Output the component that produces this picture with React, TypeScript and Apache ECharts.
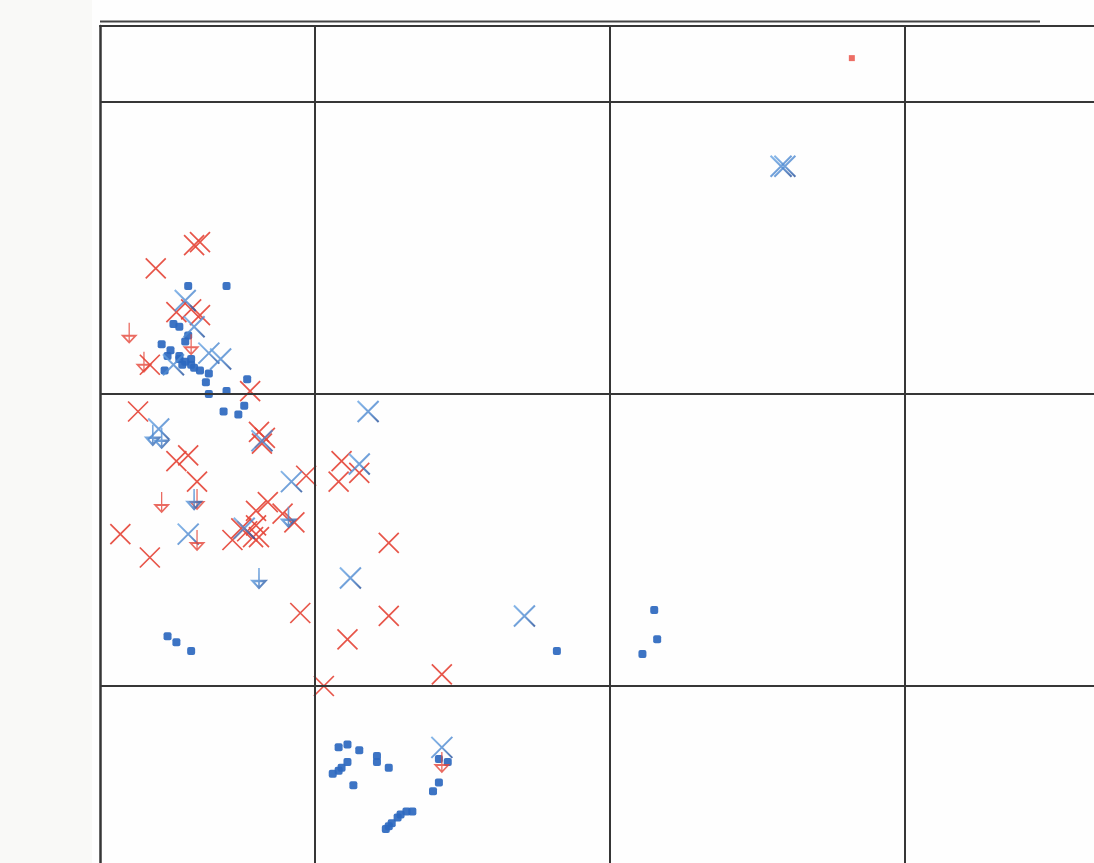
import React, { useEffect, useRef } from "react";
import * as echarts from "echarts";

// Axis range in grid-cell units (grid lines at 1, 2, 3)
const xRange = [0.271, 3.641];
const yRange = [0.394, 3.26];
const gridLinesX = [1, 2, 3];
const gridLinesY = [1, 2, 3];

// Red crosses
const redCrossX = [0.59, 0.61, 0.46, 0.53, 0.58, 0.61, 0.44, 0.78, 0.40, 0.81, 0.83, 0.82, 0.53, 0.57, 0.60, 0.97, 0.80, 0.84, 0.77, 0.79, 0.81, 0.72, 0.75, 0.93, 0.89, 0.34, 0.44, 1.09, 1.15, 1.08, 1.25, 0.95, 1.25, 1.11, 1.43, 1.03, 0.80];
const redCrossY = [2.51, 2.52, 2.43, 2.28, 2.29, 2.27, 2.10, 2.01, 1.94, 1.87, 1.85, 1.83, 1.77, 1.79, 1.70, 1.72, 1.60, 1.63, 1.53, 1.51, 1.51, 1.50, 1.54, 1.56, 1.59, 1.52, 1.44, 1.77, 1.73, 1.70, 1.49, 1.25, 1.24, 1.16, 1.04, 1.00, 1.55];

// Blue crosses
const blueCrossX = [2.58, 2.593, 0.56, 0.59, 0.64, 0.68, 0.52, 0.47, 0.82, 0.92, 1.15, 1.18, 0.76, 0.57, 1.12, 1.71, 1.43];
const blueCrossY = [2.78, 2.78, 2.32, 2.23, 2.14, 2.12, 2.10, 1.88, 1.84, 1.70, 1.76, 1.94, 1.54, 1.52, 1.37, 1.24, 0.79];

// Blue squares
const blueSquareX = [0.57, 0.70, 0.52, 0.54, 0.57, 0.56, 0.48, 0.51, 0.50, 0.54, 0.56, 0.58, 0.59, 0.61, 0.55, 0.49, 0.64, 0.63, 0.77, 0.64, 0.70, 0.69, 0.74, 0.76, 0.54, 0.58, 0.50, 0.53, 0.58, 1.82, 2.15, 2.16, 2.11, 1.08, 1.11, 1.15, 1.21, 1.21, 1.25, 1.11, 1.09, 1.08, 1.06, 1.13, 1.42, 1.45, 1.42, 1.40, 1.33, 1.31, 1.29, 1.28, 1.26, 1.25, 1.24];
const blueSquareY = [2.37, 2.37, 2.24, 2.23, 2.20, 2.18, 2.17, 2.15, 2.13, 2.12, 2.11, 2.10, 2.09, 2.08, 2.10, 2.08, 2.07, 2.04, 2.05, 2.00, 2.01, 1.94, 1.93, 1.96, 2.13, 2.12, 1.17, 1.15, 1.12, 1.12, 1.26, 1.16, 1.11, 0.79, 0.80, 0.78, 0.76, 0.74, 0.72, 0.74, 0.72, 0.71, 0.70, 0.66, 0.75, 0.74, 0.67, 0.64, 0.57, 0.57, 0.56, 0.55, 0.53, 0.52, 0.51];

// Red square
const redSquareX = [2.82];
const redSquareY = [3.15];

// Upper-limit arrows
const redArrowX = [0.37, 0.58, 0.42, 0.48, 0.60, 0.60, 1.43];
const redArrowY = [2.21, 2.17, 2.11, 1.63, 1.64, 1.50, 0.74];
const blueArrowX = [0.45, 0.48, 0.59, 0.81, 0.91];
const blueArrowY = [1.86, 1.85, 1.64, 1.37, 1.58];

const zip = (xs: number[], ys: number[]) => xs.map((x, i) => [x, ys[i]]);

const CROSS = "path://M0,0L10,10M10,0L0,10";
const ARROW = "path://M5,0L5,20M0,13L10,13L5,20Z";

export default function App() {
  const ref = useRef<HTMLDivElement>(null);
  useEffect(() => {
    if (!ref.current) return;
    const chart = echarts.init(ref.current, null, { renderer: "svg" });
    const blueGrad = new echarts.graphic.LinearGradient(0, 0, 1, 1, [
      { offset: 0, color: "#6aa6e4" },
      { offset: 0.55, color: "#4b87cf" },
      { offset: 1, color: "#234f9a" },
    ]);
    const lineColor = "#363636";
    chart.setOption({
      animation: false,
      backgroundColor: "#fefefe",
      grid: { left: 100, right: 0, top: 26, bottom: 0 },
      graphic: [
        { type: "rect", shape: { x: 0, y: 0, width: 92, height: 863 }, style: { fill: "#f9f9f7" }, z: -10 },
        { type: "line", shape: { x1: 100, y1: 21.5, x2: 1040, y2: 21.5 }, style: { stroke: "#444", lineWidth: 2.2 } },
      ],
      xAxis: {
        type: "value",
        position: "top",
        min: xRange[0],
        max: xRange[1],
        axisLine: { show: true, onZero: false, lineStyle: { color: lineColor, width: 2 } },
        axisTick: { show: false },
        axisLabel: { show: false },
        splitLine: { show: false },
      },
      yAxis: {
        type: "value",
        min: yRange[0],
        max: yRange[1],
        axisLine: { show: true, onZero: false, lineStyle: { color: lineColor, width: 2.5 } },
        axisTick: { show: false },
        axisLabel: { show: false },
        splitLine: { show: false },
      },
      series: [
        {
          type: "scatter",
          data: [],
          silent: true,
          markLine: {
            silent: true,
            symbol: "none",
            label: { show: false },
            lineStyle: { color: lineColor, width: 2, type: "solid" },
            data: [
              ...gridLinesX.map((v) => ({ xAxis: v })),
              ...gridLinesY.map((v) => ({ yAxis: v })),
            ],
          },
        },
        {
          name: "blue squares",
          type: "scatter",
          symbol: "roundRect",
          symbolSize: 8,
          itemStyle: { color: "#2c68bf", opacity: 0.92 },
          data: zip(blueSquareX, blueSquareY),
        },
        {
          name: "red square",
          type: "scatter",
          symbol: "rect",
          symbolSize: 6,
          itemStyle: { color: "#e84a3e" },
          data: zip(redSquareX, redSquareY),
        },
        {
          name: "red crosses",
          type: "scatter",
          symbol: CROSS,
          symbolSize: 20,
          itemStyle: { color: "rgba(0,0,0,0)", borderColor: "#e5463a", borderWidth: 1.7, opacity: 0.92 },
          data: zip(redCrossX, redCrossY),
        },
        {
          name: "blue crosses",
          type: "scatter",
          symbol: CROSS,
          symbolSize: 21,
          itemStyle: { color: "rgba(0,0,0,0)", borderColor: blueGrad, borderWidth: 2 },
          data: zip(blueCrossX, blueCrossY),
        },
        {
          name: "red limits",
          type: "scatter",
          symbol: ARROW,
          symbolSize: [13, 20],
          itemStyle: { color: "rgba(0,0,0,0)", borderColor: "#e5463a", borderWidth: 1.6 },
          data: zip(redArrowX, redArrowY),
        },
        {
          name: "blue limits",
          type: "scatter",
          symbol: ARROW,
          symbolSize: [13, 20],
          itemStyle: { color: "rgba(0,0,0,0)", borderColor: blueGrad, borderWidth: 2 },
          data: zip(blueArrowX, blueArrowY),
        },
      ],
    });
    return () => chart.dispose();
  }, []);
  return (
    <div
      ref={ref}
      style={{ position: "absolute", left: 0, top: 0, width: 1094, height: 863 }}
    />
  );
}
